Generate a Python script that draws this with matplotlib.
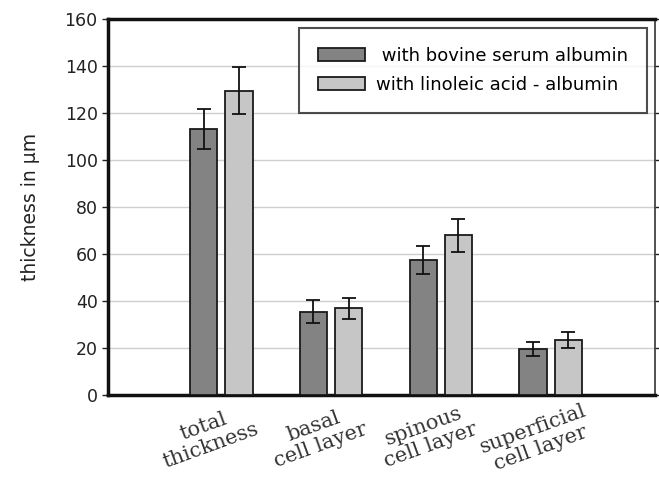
import matplotlib
matplotlib.use("Agg")
import matplotlib.pyplot as plt
import matplotlib.transforms as mtransforms
import numpy as np

categories = ["total\nthickness", "basal\ncell layer", "spinous\ncell layer", "superficial\ncell layer"]
bsa_values = [113, 35.5, 57.5, 19.5]
bsa_errors = [8.5, 5.0, 6.0, 3.0]
la_values = [129.5, 37, 68, 23.5]
la_errors = [10.0, 4.5, 7.0, 3.5]
series_labels = [" with bovine serum albumin", "with linoleic acid - albumin"]
yticks = [0, 20, 40, 60, 80, 100, 120, 140, 160]

fig = plt.figure(figsize=(6.59, 4.83), dpi=100)
ax = fig.add_axes([0.164, 0.182, 0.830, 0.779])

x = np.arange(1, len(categories) + 1)
w = 0.25
off = 0.16
err_kw = dict(ecolor="#111111", elinewidth=1.3, capsize=5, capthick=1.3)
ax.bar(x - off, bsa_values, w, yerr=bsa_errors, color="#838383", edgecolor="#1a1a1a",
       linewidth=1.3, error_kw=err_kw, label=series_labels[0], zorder=3)
ax.bar(x + off, la_values, w, yerr=la_errors, color="#c6c6c6", edgecolor="#1a1a1a",
       linewidth=1.3, error_kw=err_kw, label=series_labels[1], zorder=3)

ax.set_xlim(-0.03, 4.95)
ax.set_ylim(0, 160)
ax.set_yticks(yticks)
ax.tick_params(axis="y", labelsize=12.5, direction="out", length=4, width=1, colors="#222222",
               right=True)
ax.grid(axis="y", color="#cfcfcf", linewidth=1, zorder=0)
ax.set_ylabel("thickness in μm", fontsize=13.5, color="#222222", labelpad=18)

ax.set_xticks(x)
ax.set_xticklabels(categories, rotation=20, fontsize=15, family="DejaVu Serif",
                   ha="center", va="top", linespacing=1.1, color="#333333")
ax.tick_params(axis="x", length=0, pad=4)
shift = mtransforms.ScaledTranslation(-14 / 100, 0, fig.dpi_scale_trans)
for lbl in ax.get_xticklabels():
    lbl.set_transform(lbl.get_transform() + shift)

for side in ["left", "bottom", "top"]:
    ax.spines[side].set_linewidth(2.5)
    ax.spines[side].set_color("#111111")
ax.spines["right"].set_linewidth(1.2)
ax.spines["right"].set_color("#333333")

leg = ax.legend(loc="upper right", bbox_to_anchor=(0.995, 0.99), fontsize=13,
                frameon=True, fancybox=False, borderpad=1.05, handlelength=2.6,
                handleheight=0.7, labelspacing=0.6, borderaxespad=0.3, handletextpad=0.6)
leg.get_frame().set_edgecolor("#222222")
leg.get_frame().set_linewidth(1.5)

fig.savefig("out.png", dpi=100)
